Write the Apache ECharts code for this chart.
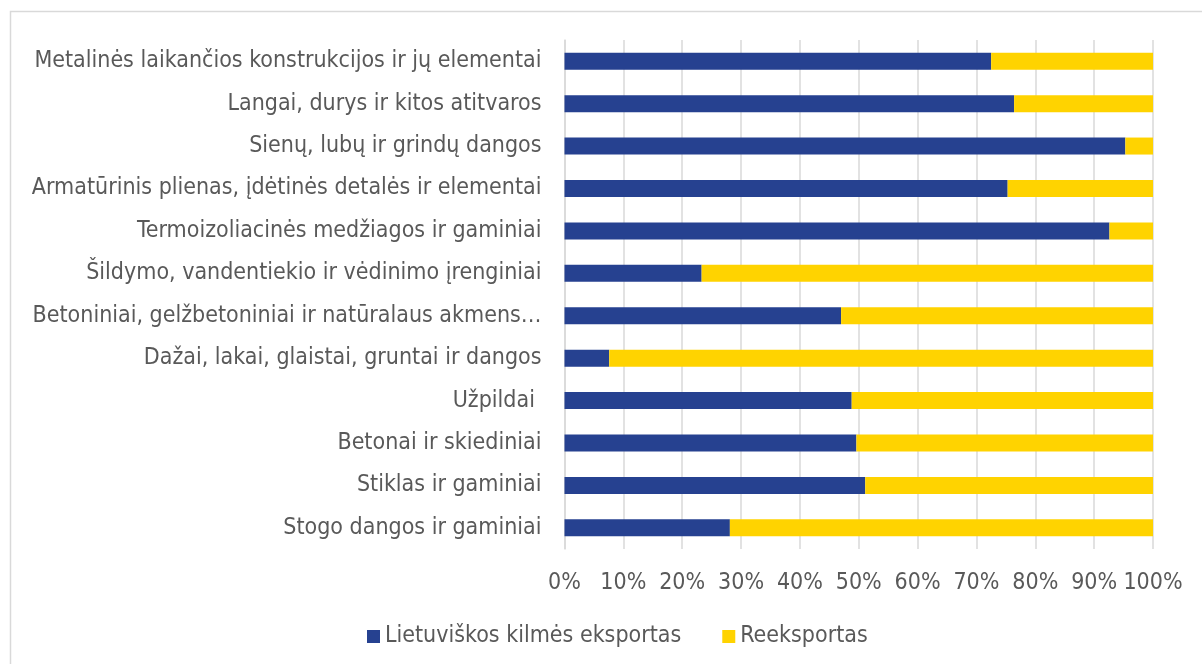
<!DOCTYPE html>
<html>
<head>
<meta charset="utf-8">
<script src="https://cdn.jsdelivr.net/npm/echarts@6/dist/echarts.min.js"></script>
<style>
html,body{margin:0;padding:0;background:#fff;}
#c{width:1202px;height:664px;}
</style>
</head>
<body>
<div id="c"></div>
<script>
const categories = [
  "Metalinės laikančios konstrukcijos ir jų elementai",
  "Langai, durys ir kitos atitvaros",
  "Sienų, lubų ir grindų dangos",
  "Armatūrinis plienas, įdėtinės detalės ir elementai",
  "Termoizoliacinės medžiagos ir gaminiai",
  "Šildymo, vandentiekio ir vėdinimo įrenginiai",
  "Betoniniai, gelžbetoniniai ir natūralaus akmens…",
  "Dažai, lakai, glaistai, gruntai ir dangos",
  "Užpildai ",
  "Betonai ir skiediniai",
  "Stiklas ir gaminiai",
  "Stogo dangos ir gaminiai"
];
const seriesNames = ["Lietuviškos kilmės eksportas", "Reeksportas"];
const domestic = [72.5, 76.4, 95.3, 75.3, 92.6, 23.3, 47.0, 7.6, 48.8, 49.6, 51.1, 28.1];
const reexport = [27.5, 23.6, 4.7, 24.7, 7.4, 76.7, 53.0, 92.4, 51.2, 50.4, 48.9, 71.9];
const xTicks = [0, 10, 20, 30, 40, 50, 60, 70, 80, 90, 100];

const FONT = "'DejaVu Sans Condensed', 'DejaVu Sans', sans-serif";
const TXT = '#595959';
const chart = echarts.init(document.getElementById('c'), null, {renderer: 'canvas'});
chart.setOption({
  animation: false,
  backgroundColor: '#ffffff',
  graphic: [{
    type: 'rect', left: 8, top: 9, shape: {width: 1300, height: 700},
    style: {fill: 'none', stroke: '#d9d9d9', lineWidth: 1.5}, silent: true, z: -1
  }],
  grid: {left: 564.5, right: 49, top: 40, bottom: 115, containLabel: false},
  legend: {
    left: 362, top: 620,
    itemWidth: 13, itemHeight: 13, itemGap: 41, icon: 'rect',
    textStyle: {fontFamily: FONT, fontSize: 23, color: TXT},
    data: seriesNames
  },
  xAxis: {
    type: 'value', min: 0, max: 100, interval: 10,
    axisLine: {show: false},
    axisTick: {show: false},
    splitLine: {show: true, lineStyle: {color: '#d9d9d9', width: 1.5}},
    axisLabel: {
      margin: 23, fontFamily: FONT, fontSize: 23, color: TXT,
      formatter: v => xTicks.includes(v) ? v + '%' : ''
    }
  },
  yAxis: {
    type: 'category', inverse: true, data: categories,
    axisLine: {show: true, lineStyle: {color: '#d9d9d9', width: 1.5}},
    axisTick: {show: false},
    axisLabel: {margin: 23, fontFamily: FONT, fontSize: 23, color: TXT}
  },
  series: [
    {name: seriesNames[0], type: 'bar', stack: 's', data: domestic, barWidth: 17,
     itemStyle: {color: '#264190'}},
    {name: seriesNames[1], type: 'bar', stack: 's', data: reexport, barWidth: 17,
     itemStyle: {color: '#FFD300'}}
  ]
});
</script>
</body>
</html>
